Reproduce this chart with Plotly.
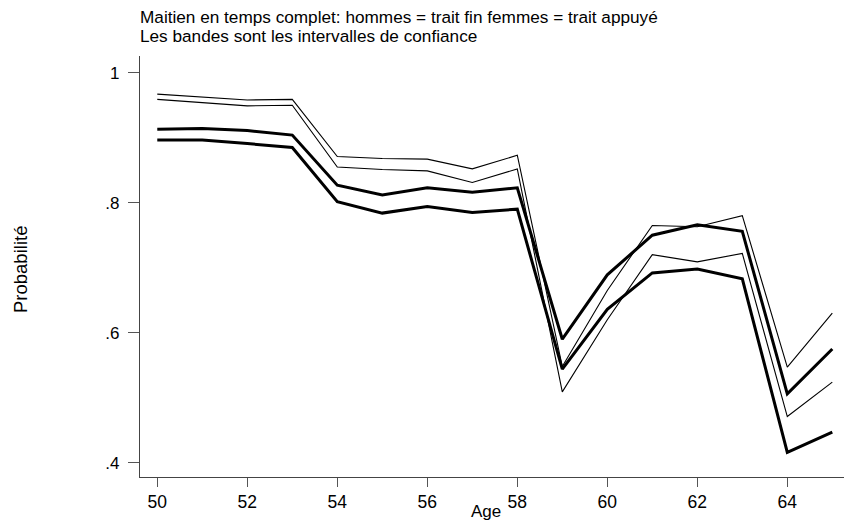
import plotly.graph_objects as go

ages = list(range(50, 66))
men_hi = [0.967, 0.963, 0.958, 0.959, 0.871, 0.868, 0.867, 0.852, 0.873,
          0.548, 0.665, 0.765, 0.763, 0.780, 0.547, 0.630]
men_lo = [0.959, 0.954, 0.949, 0.950, 0.855, 0.851, 0.849, 0.831, 0.852,
          0.509, 0.620, 0.720, 0.709, 0.722, 0.471, 0.524]
women_hi = [0.913, 0.914, 0.911, 0.904, 0.827, 0.812, 0.823, 0.816, 0.823,
            0.590, 0.689, 0.750, 0.766, 0.756, 0.506, 0.575]
women_lo = [0.8965, 0.8965, 0.891, 0.885, 0.8015, 0.784, 0.794, 0.785, 0.790,
            0.544, 0.636, 0.692, 0.698, 0.683, 0.416, 0.447]

x_ticks = [50, 52, 54, 56, 58, 60, 62, 64]
y_ticks = [0.4, 0.6, 0.8, 1.0]
y_tick_labels = [".4", ".6", ".8", "1"]

title_lines = ["Maitien en temps complet: hommes = trait fin femmes = trait appuyé",
               "Les bandes sont les intervalles de confiance"]

FONT = "Liberation Sans, Arial, sans-serif"

fig = go.Figure()
for ys in (men_hi, men_lo):
    fig.add_trace(go.Scatter(x=ages, y=ys, mode="lines",
                             line=dict(color="black", width=1.1),
                             showlegend=False, hoverinfo="skip"))
for ys in (women_hi, women_lo):
    fig.add_trace(go.Scatter(x=ages, y=ys, mode="lines",
                             line=dict(color="black", width=3),
                             showlegend=False, hoverinfo="skip"))

fig.update_layout(
    width=849, height=525,
    margin=dict(l=140, r=5, t=56, b=48),
    paper_bgcolor="white", plot_bgcolor="white",
    font=dict(family=FONT, color="black", size=17),
    showlegend=False,
)
fig.update_xaxes(
    range=[49.616, 65.26], tickvals=x_ticks, ticktext=[str(v) for v in x_ticks],
    showgrid=False, zeroline=False, showline=True, linecolor="#444", linewidth=1.2,
    ticks="outside", ticklen=9, tickcolor="#555", tickwidth=1.2,
    tickfont=dict(size=17.5, family=FONT), fixedrange=True,
)
fig.update_yaxes(
    range=[0.378, 1.0257], tickvals=y_ticks, ticktext=y_tick_labels,
    showgrid=False, zeroline=False, showline=True, linecolor="#444", linewidth=1.2,
    ticks="outside", ticklen=11, tickcolor="#555", tickwidth=1.2,
    tickfont=dict(size=17, family=FONT), fixedrange=True,
    ticklabelstandoff=5,
)

for i, t in enumerate(title_lines):
    fig.add_annotation(text=t, xref="paper", yref="paper", x=0, y=1,
                       xanchor="left", yanchor="middle", showarrow=False,
                       yshift=56 - 17 - i * 19, xshift=-2,
                       font=dict(size=17.2, family=FONT, color="black"))

fig.add_annotation(text="Probabilité", xref="paper", yref="paper", x=0, y=0.5,
                   xanchor="center", yanchor="middle", showarrow=False,
                   textangle=-90, xshift=-120, yshift=-3.5,
                   font=dict(size=18.5, family=FONT, color="black"))
fig.add_annotation(text="Age", xref="paper", yref="paper", x=0.4915, y=0,
                   xanchor="center", yanchor="middle", showarrow=False,
                   yshift=-34,
                   font=dict(size=17, family=FONT, color="black"))

fig.write_html("out.html")
